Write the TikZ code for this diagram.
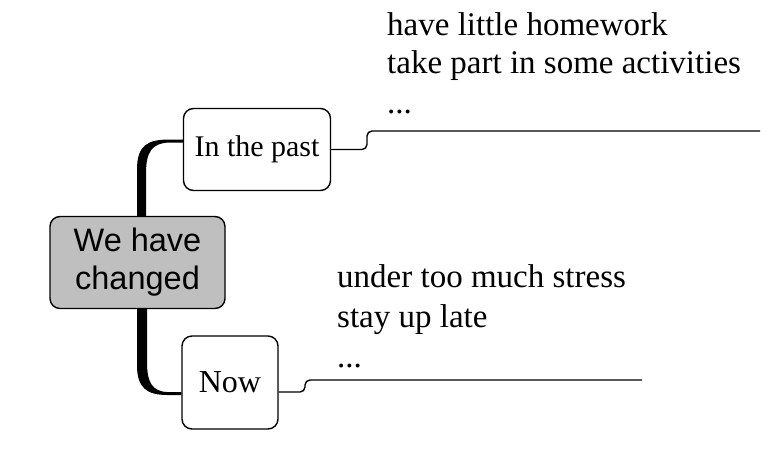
\documentclass[tikz,border=0pt]{standalone}
\usepackage{fontspec}
\setmainfont{Liberation Serif}
\setsansfont{Liberation Sans}
\usetikzlibrary{calc}
\begin{document}
\begin{tikzpicture}[x=1pt,y=-1pt,
  box/.style={draw, line width=1.4pt, rounded corners=10pt, inner sep=0pt, fill=white},
  hub/.style={box, fill=black!25, font=\sffamily\fontsize{32.5}{38}\selectfont, align=center},
  branch/.style={draw, line width=1.4pt, rounded corners=5pt},
  item/.style={anchor=base west, inner sep=0pt, font=\fontsize{33}{39}\selectfont}]
\useasboundingbox (0,0) rectangle (775,450);
\node[hub, minimum width=175pt, minimum height=92pt] (c) at (137.5,262.5) {We have\\changed};
\node[box, minimum width=147pt, minimum height=82pt, font=\fontsize{30}{36}\selectfont] (p) at (257,149.5) {In the past};
\node[box, minimum width=96pt, minimum height=93pt, font=\fontsize{32}{38}\selectfont] (n) at (230,382.5) {Now};
% thick tapered connectors
\fill ($(c.north)+(-0.5,0)$) -- ($(c.north)+(-0.5,-46)$)
  .. controls ($(c.north)+(-0.5,-71)$) and ($(p.west)+(-35,-10)$) .. ($(p.west)+(-13,-10)$)
  -- ($(p.west)+(0,-10)$) -- ($(p.west)+(0,-7)$) -- ($(p.west)+(-13,-7)$)
  .. controls ($(p.west)+(-31,-6.5)$) and ($(c.north)+(8.5,-64)$) .. ($(c.north)+(8.5,-42)$)
  -- ($(c.north)+(8.5,0)$) -- cycle;
\fill ($(c.south)+(-0.5,0)$) -- ($(c.south)+(-0.5,56)$)
  .. controls ($(c.south)+(-0.5,79)$) and ($(n.west)+(-34,12.5)$) .. ($(n.west)+(-14,12.5)$)
  -- ($(n.west)+(0,12.5)$) -- ($(n.west)+(0,9.5)$) -- ($(n.west)+(-14,9.5)$)
  .. controls ($(n.west)+(-29,9)$) and ($(c.south)+(9.5,73)$) .. ($(c.south)+(9.5,53)$)
  -- ($(c.south)+(9.5,0)$) -- cycle;
% branches
\coordinate (pe) at (760,131);
\draw[branch] (p.east) -- (367,149.5) -- (367,131) -- (pe);
\coordinate (ne) at (642,380);
\draw[branch] ($(n.east)+(0,9.5)$) -- (305,392) -- (305,380) -- (ne);
% items
\node[item] (p1) at (387,35) {have little homework};
\node[item] (p2) at (387,73) {take part in some activities};
\node[item] (p3) at (387,113) {...};
\node[item] (n1) at (337,287) {under too much stress};
\node[item] (n2) at (337,327) {stay up late};
\node[item] (n3) at (337,367) {...};
\end{tikzpicture}
\end{document}
